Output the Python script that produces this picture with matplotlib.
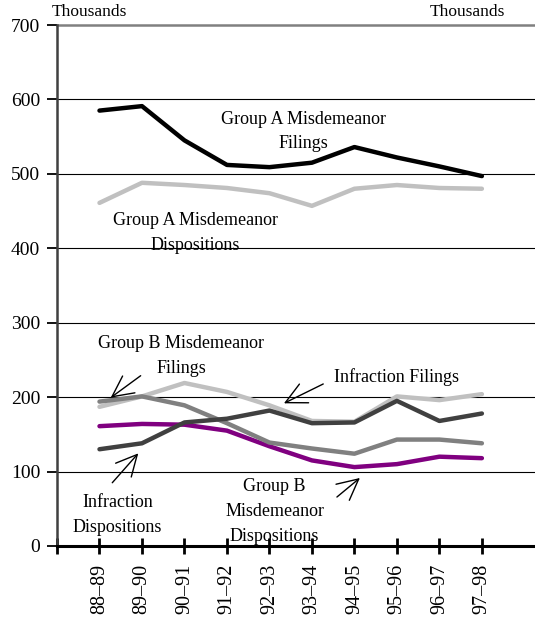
import matplotlib
matplotlib.use("Agg")
import matplotlib.pyplot as plt

periods = ["88–89", "89–90", "90–91", "91–92", "92–93", "93–94", "94–95", "95–96", "96–97", "97–98"]
group_a_filings = [585, 591, 545, 512, 509, 515, 536, 522, 510, 497]
group_a_dispositions = [461, 488, 485, 481, 474, 457, 480, 485, 481, 480]
infraction_filings = [187, 201, 219, 207, 189, 168, 167, 201, 196, 204]
group_b_filings = [194, 201, 189, 165, 139, 131, 124, 143, 143, 138]
group_b_dispositions = [161, 164, 163, 155, 134, 115, 106, 110, 120, 118]
infraction_dispositions = [130, 138, 166, 171, 182, 165, 166, 195, 168, 178]
y_ticks = [0, 100, 200, 300, 400, 500, 600, 700]

plt.rcParams['font.family'] = ['Liberation Serif', 'DejaVu Serif']

fig = plt.figure(figsize=(5.35, 6.21), dpi=100)
ax = fig.add_axes([57/535, 75/621, 1 - 57/535, 521/621])

x = list(range(1, len(periods) + 1))
lw = 3.2
ax.plot(x, group_a_dispositions, color="#c0c0c0", lw=lw, solid_capstyle="round", zorder=3)
ax.plot(x, group_a_filings, color="#000000", lw=lw, solid_capstyle="round", zorder=4)
ax.plot(x, infraction_filings, color="#c0c0c0", lw=lw, solid_capstyle="round", zorder=3)
ax.plot(x, group_b_filings, color="#808080", lw=lw, solid_capstyle="round", zorder=4)
ax.plot(x, group_b_dispositions, color="#800080", lw=lw, solid_capstyle="round", zorder=3.5)
ax.plot(x, infraction_dispositions, color="#404040", lw=lw, solid_capstyle="round", zorder=5)

ax.set_xlim(0, 11.25)
ax.set_ylim(0, 700)

# grid lines
for v in y_ticks[1:-1]:
    ax.axhline(v, color="black", lw=0.8, zorder=1)
ax.axhline(700, color="#808080", lw=1.8, zorder=1, clip_on=False)

for s in ["top", "right"]:
    ax.spines[s].set_visible(False)
ax.spines["left"].set_color("#404040")
ax.spines["left"].set_linewidth(1.8)
ax.spines["bottom"].set_color("black")
ax.spines["bottom"].set_linewidth(2.2)
ax.spines["bottom"].set_zorder(6)

ax.set_yticks(y_ticks)
ax.set_yticklabels([str(v) for v in y_ticks], fontsize=14)
ax.tick_params(axis="y", direction="out", length=7, width=1.3, color="black", pad=5)

ax.set_xticks([0] + x)
ax.set_xticklabels([""] + periods, rotation=90, fontsize=14.5)
ax.tick_params(axis="x", direction="inout", length=12, width=2, color="black", pad=7)

ax.text(-0.12, 707, "Thousands", fontsize=12.5, ha="left", va="bottom")
ax.text(10.54, 707, "Thousands", fontsize=12.5, ha="right", va="bottom")

fs = 13
ls = 1.6
ax.text(5.8, 557, "Group A Misdemeanor\nFilings", fontsize=fs, ha="center", va="center", linespacing=ls)
ax.text(3.25, 421, "Group A Misdemeanor\nDispositions", fontsize=fs, ha="center", va="center", linespacing=ls)
ax.text(2.92, 255, "Group B Misdemeanor\nFilings", fontsize=fs, ha="center", va="center", linespacing=ls)
ax.text(8.0, 227, "Infraction Filings", fontsize=fs, ha="center", va="center")
ax.text(1.42, 42, "Infraction\nDispositions", fontsize=fs, ha="center", va="center", linespacing=ls)
ax.text(5.12, 46, "Group B\nMisdemeanor\nDispositions", fontsize=fs, ha="center", va="center", linespacing=ls)

arrow = dict(arrowstyle="->,head_length=1.5,head_width=0.75", color="black", lw=1.0, shrinkA=0, shrinkB=0)
ax.annotate("", xy=(1.264, 199.3), xytext=(1.969, 228.8), arrowprops=arrow)
ax.annotate("", xy=(5.341, 191.7), xytext=(6.266, 217.7), arrowprops=arrow)
ax.annotate("", xy=(1.913, 124.5), xytext=(1.301, 85.0), arrowprops=arrow)
ax.annotate("", xy=(7.129, 91.4), xytext=(6.588, 65.8), arrowprops=arrow)

fig.savefig("out.png", dpi=100)
